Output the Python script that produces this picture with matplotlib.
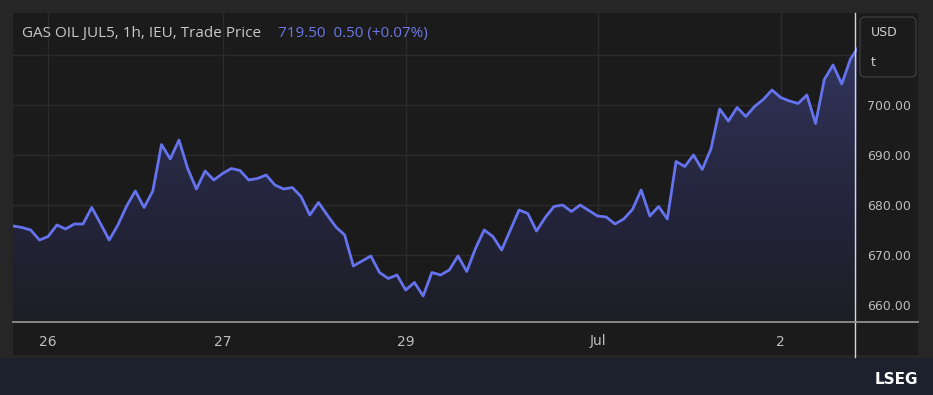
import numpy as np
import matplotlib
matplotlib.use("Agg")
import matplotlib.pyplot as plt
from matplotlib.patches import Rectangle, FancyBboxPatch
from matplotlib.lines import Line2D
from matplotlib.colors import LinearSegmentedColormap
from matplotlib.transforms import IdentityTransform

# Hourly trade prices
prices = [
    675.8, 675.5, 675.0, 673.0, 673.7, 676.0, 675.2, 676.2, 676.2, 679.5,
    676.3, 673.0, 676.0, 679.8, 682.8, 679.5, 682.8, 692.1, 689.2, 693.0,
    687.3, 683.2, 686.8, 685.0, 686.3, 687.3, 686.9, 685.0, 685.3, 686.0,
    684.0, 683.2, 683.5, 681.7, 678.0, 680.5, 678.0, 675.6, 674.0, 667.8,
    668.8, 669.8, 666.5, 665.3, 666.0, 663.0, 664.5, 661.8, 666.5, 666.0,
    667.0, 669.8, 666.7, 671.3, 675.0, 673.7, 671.0, 675.0, 679.0, 678.3,
    674.8, 677.5, 679.7, 680.0, 678.7, 680.0, 678.9, 677.8, 677.6, 676.2,
    677.2, 679.1, 683.0, 677.8, 679.7, 677.2, 688.7, 687.7, 690.0, 687.1,
    691.2, 699.2, 696.8, 699.5, 697.7, 699.7, 701.1, 703.0, 701.5, 700.8,
    700.3, 702.0, 696.3, 705.1, 708.0, 704.2, 709.2, 711.8,
]
tick_pos = [4, 24, 45, 67, 88]
tick_labels = ["26", "27", "29", "Jul", "2"]
y_grid = [660, 670, 680, 690, 700, 710]
y_labels = ["660.00", "670.00", "680.00", "690.00", "700.00", ""]
title_text = "GAS OIL JUL5, 1h, IEU, Trade Price"
last_price = "719.50"
change_text = "0.50 (+0.07%)"
now_index = 96.53

Y_MIN, Y_MAX = 656.6, 718.4
W, H = 933, 395

fig = plt.figure(figsize=(W / 100, H / 100), dpi=100)
fig.patch.set_facecolor("#262626")


def fx(px):
    return px / W


def fy(py):
    return 1 - py / H


# Dark chart panel and bottom band
fig.add_artist(Rectangle((fx(13), fy(355)), fx(918) - fx(13), fy(13) - fy(355),
                         transform=fig.transFigure, facecolor="#1b1b1b",
                         edgecolor="none", zorder=0))
fig.add_artist(Rectangle((0, 0), 1, fy(358), transform=fig.transFigure,
                         facecolor="#1d212e", edgecolor="none", zorder=0))

ax = fig.add_axes([fx(13), fy(322), fx(857) - fx(13), fy(13) - fy(322)])
ax.set_facecolor("#1b1b1b")
x = np.arange(len(prices))

# Gradient area under the line
cmap = LinearSegmentedColormap.from_list(
    "fill", ["#1d1e24", "#23243a", "#2b2e4c", "#363b6c"])
grad = np.linspace(0, 1, 256).reshape(-1, 1)
im = ax.imshow(grad, extent=[x[0], x[-1], Y_MIN, Y_MAX], origin="lower",
               aspect="auto", cmap=cmap, zorder=1)
poly = ax.fill_between(x, prices, Y_MIN, color="none", lw=0)
im.set_clip_path(poly.get_paths()[0], transform=ax.transData)

ax.plot(x, prices, color="#6573ee", lw=2, zorder=3, solid_joinstyle="round")

ax.set_xlim(-0.03, 96.75)
ax.set_ylim(Y_MIN, Y_MAX)

# Axes, ticks and grid
ax.set_xticks(tick_pos)
ax.set_xticklabels(tick_labels, family=["Liberation Sans Narrow", "DejaVu Sans"])
ax.set_yticks(y_grid)
ax.set_yticklabels(y_labels)
ax.yaxis.tick_right()
ax.tick_params(axis="x", length=0, pad=9, labelsize=10, colors="#bdbdbd")
ax.tick_params(axis="y", length=0, pad=7, labelsize=9, colors="#bdbdbd")
ax.grid(True, color="#2b2b2b", lw=1)
ax.set_axisbelow(True)
for s in ax.spines.values():
    s.set_visible(False)

# Time axis line and "now" marker
fig.add_artist(Line2D([fx(13), fx(918)], [fy(322), fy(322)],
                      transform=fig.transFigure, color="#9a9a9a", lw=1.2))
ax.axvline(now_index, ymin=-0.113, ymax=1, color="#d8d8d8", lw=1,
           clip_on=False, zorder=5)

# Title
fig.text(fx(22), fy(33), title_text, color="#c8c8c8", fontsize=11,
         family="Open Sans", va="center")
fig.text(fx(278), fy(33), last_price + "  " + change_text, color="#6b78e6",
         fontsize=11, family="Open Sans", va="center")

# Currency/unit box
fig.add_artist(FancyBboxPatch((860, H - 77), 56, 60,
                              boxstyle="round,pad=0,rounding_size=5",
                              transform=IdentityTransform(),
                              facecolor="#1b1b1b", edgecolor="#3c3c3c", lw=1))
fig.text(fx(871), fy(33), "USD", color="#d0d0d0", fontsize=9, va="center")
fig.text(fx(871), fy(62), "t", color="#d0d0d0", fontsize=9, va="center")

# Logo
fig.text(fx(918), fy(380), "LSEG", color="white", fontsize=11,
         fontweight="bold", ha="right", va="center")

fig.savefig("out.png", dpi=100, facecolor=fig.get_facecolor())
